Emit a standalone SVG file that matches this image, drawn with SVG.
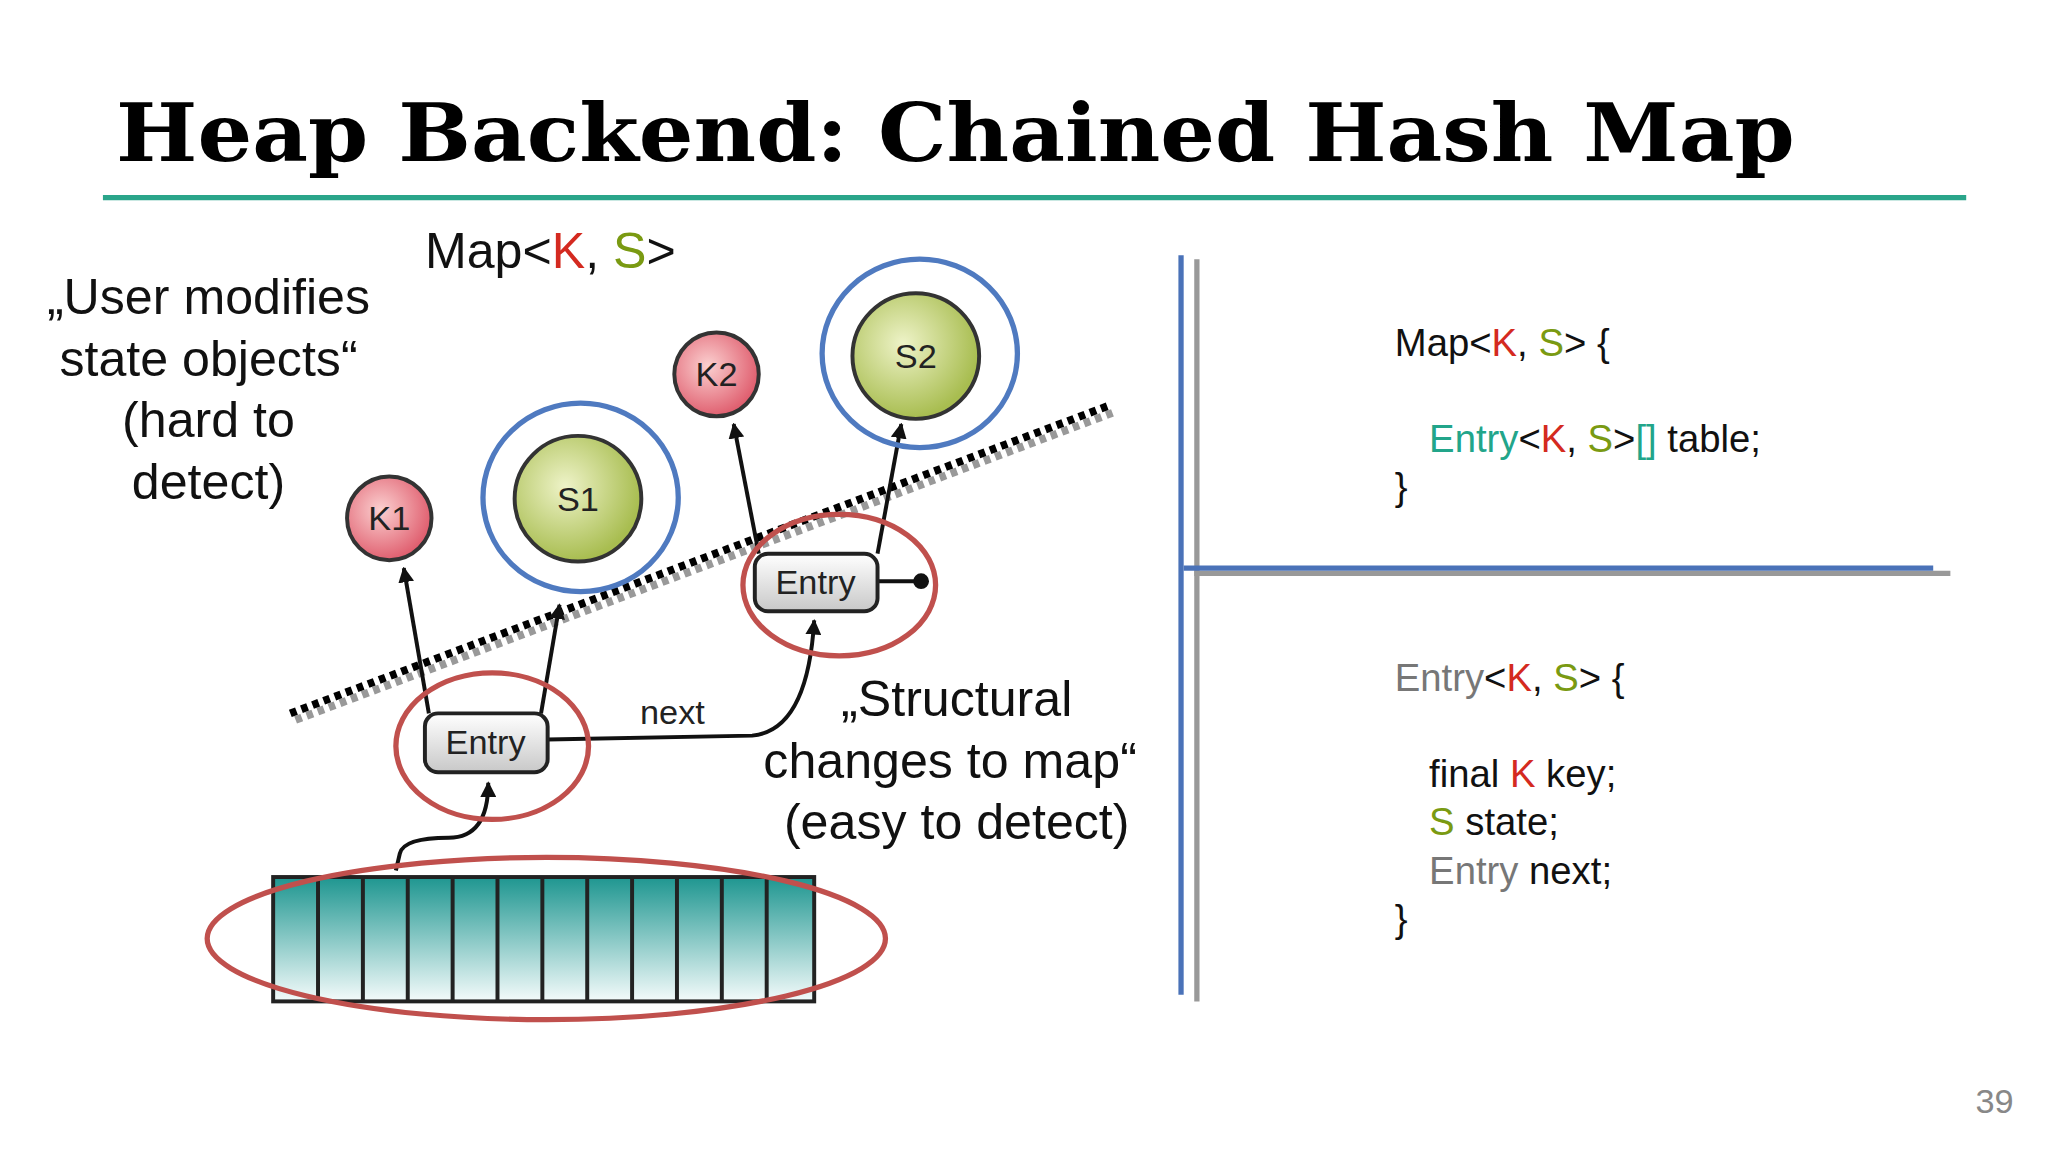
<svg xmlns="http://www.w3.org/2000/svg" width="2048" height="1152" viewBox="0 0 2048 1152">
<style>
.t{font-family:"Liberation Sans",Arial,sans-serif;fill:#111}
.big{font-size:38px}
.code{font-size:29px}
.r{fill:#d42a20}.g{fill:#7a9a12}.tl{fill:#22a58a}.gr{fill:#777}
.ent{fill:url(#eg);stroke:#222;stroke-width:3}
.el{fill:none;stroke:#c0504d;stroke-width:4}
.ring{fill:none;stroke:#4f7ac0;stroke-width:4}
.ar{fill:none;stroke:#111;stroke-width:3;marker-end:url(#ah)}
.lbl{font-family:"Liberation Sans",Arial,sans-serif;font-size:26px;fill:#222}
</style>
<defs>
<radialGradient id="kg" cx="0.4" cy="0.4" r="0.6"><stop offset="0" stop-color="#fbd0d0"/><stop offset="1" stop-color="#e06070"/></radialGradient>
<radialGradient id="sg" cx="0.4" cy="0.4" r="0.6"><stop offset="0" stop-color="#eef3c8"/><stop offset="1" stop-color="#a8bd50"/></radialGradient>
<linearGradient id="eg" x1="0" y1="0" x2="0" y2="1"><stop offset="0" stop-color="#fff"/><stop offset="1" stop-color="#c8c8c8"/></linearGradient>
<linearGradient id="ag" x1="0" y1="0" x2="0" y2="1"><stop offset="0" stop-color="#1e9690"/><stop offset="1" stop-color="#f4fbfb"/></linearGradient>
<marker id="ah" viewBox="0 0 10 10" refX="9" refY="5" markerWidth="4" markerHeight="4" orient="auto"><path d="M0,0 L10,5 L0,10 z" fill="#111"/></marker>
</defs>
<rect width="2048" height="1152" fill="#fff"/>
<g transform="scale(1.3196,1.309)">
<text x="88" y="123" font-family="DejaVu Serif,serif" font-weight="bold" font-size="62" textLength="1272" lengthAdjust="spacingAndGlyphs" fill="#000">Heap Backend: Chained Hash Map</text>
<line x1="78" y1="151" x2="1490" y2="151" stroke="#2aa58a" stroke-width="4"/>

<g id="connectors">
<line x1="224" y1="550" x2="844" y2="315" stroke="#999" stroke-width="6" stroke-dasharray="5,4"/>
<line x1="220" y1="545" x2="840" y2="310" stroke="#000" stroke-width="6" stroke-dasharray="5,4"/>
<path class="ar" d="M325,545 L306,434"/>
<path class="ar" d="M410,545 L424,462"/>
<path class="ar" d="M575,423 L556,324"/>
<path class="ar" d="M665,423 L683,324"/>
<path class="ar" d="M415,565 L570,562 Q612,558 617,474"/>
<path class="ar" d="M300,665 L303,652 Q306,640 340,640 Q370,640 370,598"/>
<line x1="665" y1="444" x2="698" y2="444" stroke="#111" stroke-width="3"/>
<circle cx="698" cy="444" r="6" fill="#111"/>
<text class="lbl" x="485" y="553">next</text>
</g>

<g id="k1"><circle cx="295" cy="396" r="32" fill="url(#kg)" stroke="#333" stroke-width="3"/><text class="lbl" x="295" y="405" text-anchor="middle">K1</text></g>
<g id="s1"><ellipse class="ring" cx="440" cy="380" rx="74" ry="72"/><circle cx="438" cy="381" r="48" fill="url(#sg)" stroke="#333" stroke-width="3"/><text class="lbl" x="438" y="390" text-anchor="middle">S1</text></g>
<g id="k2"><circle cx="543" cy="286" r="32" fill="url(#kg)" stroke="#333" stroke-width="3"/><text class="lbl" x="543" y="295" text-anchor="middle">K2</text></g>
<g id="s2"><ellipse class="ring" cx="697" cy="270" rx="74" ry="72"/><circle cx="694" cy="272" r="48" fill="url(#sg)" stroke="#333" stroke-width="3"/><text class="lbl" x="694" y="281" text-anchor="middle">S2</text></g>
<g id="entry1"><ellipse class="el" cx="373" cy="570" rx="73" ry="56"/><rect class="ent" x="322" y="545" width="93" height="45" rx="10"/><text class="lbl" x="368" y="576" text-anchor="middle">Entry</text></g>
<g id="entry2"><ellipse class="el" cx="636" cy="447" rx="73" ry="54"/><rect class="ent" x="572" y="423" width="93" height="44" rx="10"/><text class="lbl" x="618" y="454" text-anchor="middle">Entry</text></g>
<g id="array">
<rect x="207" y="670" width="410" height="95" fill="url(#ag)" stroke="#222" stroke-width="3"/>
<path d="M241,670V765M275,670V765M309,670V765M343,670V765M377,670V765M411,670V765M445,670V765M479,670V765M513,670V765M547,670V765M581,670V765" stroke="#222" stroke-width="3"/>
<ellipse class="el" cx="414" cy="717" rx="257" ry="62"/>
</g>

<g id="labels" class="t big">
<text x="322" y="205">Map&lt;<tspan class="r">K</tspan>, <tspan class="g">S</tspan>&gt;</text>
<g text-anchor="middle">
<text x="158" y="240">„User modifies</text>
<text x="158" y="287">state objects“</text>
<text x="158" y="334">(hard to</text>
<text x="158" y="381">detect)</text>
<text x="725" y="547">„Structural</text>
<text x="720" y="594">changes to map“</text>
<text x="725" y="641">(easy to detect)</text>
</g>
</g>

<g id="dividers">
<line x1="907" y1="198" x2="907" y2="765" stroke="#999" stroke-width="4"/>
<line x1="895" y1="195" x2="895" y2="760" stroke="#4a72b8" stroke-width="4"/>
<line x1="905" y1="438" x2="1478" y2="438" stroke="#999" stroke-width="4"/>
<line x1="897" y1="434" x2="1465" y2="434" stroke="#4a72b8" stroke-width="4"/>
</g>

<g id="code" class="t code">
<text x="1057" y="272">Map&lt;<tspan class="r">K</tspan>, <tspan class="g">S</tspan>&gt; {</text>
<text x="1083" y="345"><tspan class="tl">Entry</tspan>&lt;<tspan class="r">K</tspan>, <tspan class="g">S</tspan>&gt;<tspan class="tl">[]</tspan> table;</text>
<text x="1057" y="382">}</text>
<text x="1057" y="528"><tspan class="gr">Entry</tspan>&lt;<tspan class="r">K</tspan>, <tspan class="g">S</tspan>&gt; {</text>
<text x="1083" y="601">final <tspan class="r">K</tspan> key;</text>
<text x="1083" y="638"><tspan class="g">S</tspan> state;</text>
<text x="1083" y="675"><tspan class="gr">Entry</tspan> next;</text>
<text x="1057" y="712">}</text>
</g>
<text x="1497" y="850" font-family="Liberation Sans,Arial,sans-serif" font-size="26" fill="#888">39</text>
</g>
</svg>
